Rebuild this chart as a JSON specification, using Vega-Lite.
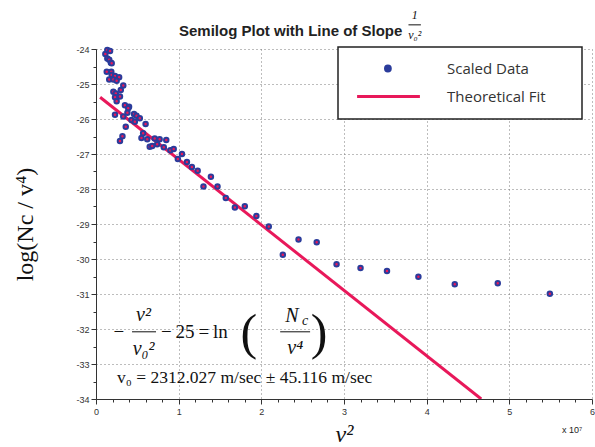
{
  "$schema": "https://vega.github.io/schema/vega-lite/v6.json",
  "width": 496,
  "height": 350,
  "autosize": {"type": "none"},
  "padding": {"left": 96, "top": 49, "right": 3, "bottom": 48},
  "background": "white",
  "title": {
    "text": "Semilog Plot with Line of Slope",
    "anchor": "start",
    "frame": "group",
    "dx": 83,
    "dy": 40,
    "offset": 10,
    "font": "Liberation Sans",
    "fontSize": 15,
    "fontWeight": "bold",
    "color": "#222222"
  },
  "config": {
    "view": {"stroke": null},
    "axis": {
      "domainColor": "#333333",
      "tickColor": "#333333",
      "labelFont": "Liberation Sans",
      "labelFontSize": 9,
      "labelColor": "#333333",
      "labelOverlap": false,
      "gridColor": "#7a7a7a",
      "gridDash": [1, 3],
      "titleFont": "Liberation Serif",
      "titleFontWeight": "normal",
      "titleColor": "#111111"
    },
    "legend": {
      "strokeColor": "#222222",
      "strokeWidth": 1.5,
      "fillColor": "white",
      "padding": 14,
      "labelFont": "Open Sans",
      "labelFontSize": 15,
      "labelColor": "#333333",
      "labelOffset": 80,
      "labelLimit": 300,
      "rowPadding": 12,
      "symbolSize": 64,
      "symbolStrokeWidth": 3
    }
  },
  "datasets": {
    "pts": [
      {"v2": 0.137, "logN": -24.03}, {"v2": 0.17, "logN": -24.06}, {"v2": 0.113, "logN": -24.14},
      {"v2": 0.137, "logN": -24.27}, {"v2": 0.16, "logN": -24.31}, {"v2": 0.18, "logN": -24.39},
      {"v2": 0.19, "logN": -24.41}, {"v2": 0.13, "logN": -24.65}, {"v2": 0.185, "logN": -24.65},
      {"v2": 0.19, "logN": -24.74}, {"v2": 0.23, "logN": -24.77}, {"v2": 0.28, "logN": -24.81},
      {"v2": 0.16, "logN": -24.87}, {"v2": 0.21, "logN": -24.87}, {"v2": 0.25, "logN": -24.91},
      {"v2": 0.33, "logN": -25.04}, {"v2": 0.3, "logN": -25.17}, {"v2": 0.21, "logN": -25.22},
      {"v2": 0.24, "logN": -25.27}, {"v2": 0.29, "logN": -25.36}, {"v2": 0.23, "logN": -25.38},
      {"v2": 0.25, "logN": -25.49}, {"v2": 0.35, "logN": -25.61}, {"v2": 0.4, "logN": -25.65},
      {"v2": 0.39, "logN": -25.69}, {"v2": 0.38, "logN": -25.82}, {"v2": 0.23, "logN": -25.88},
      {"v2": 0.46, "logN": -25.86}, {"v2": 0.49, "logN": -25.91}, {"v2": 0.33, "logN": -25.93},
      {"v2": 0.53, "logN": -25.98}, {"v2": 0.43, "logN": -26.03}, {"v2": 0.47, "logN": -26.08},
      {"v2": 0.6, "logN": -26.14}, {"v2": 0.36, "logN": -26.22}, {"v2": 0.32, "logN": -26.49},
      {"v2": 0.29, "logN": -26.63}, {"v2": 0.55, "logN": -26.54}, {"v2": 0.57, "logN": -26.41},
      {"v2": 0.62, "logN": -26.58}, {"v2": 0.71, "logN": -26.56}, {"v2": 0.77, "logN": -26.58},
      {"v2": 0.85, "logN": -26.6}, {"v2": 0.74, "logN": -26.72}, {"v2": 0.65, "logN": -26.79},
      {"v2": 0.68, "logN": -26.77}, {"v2": 0.82, "logN": -26.81}, {"v2": 0.9, "logN": -26.89},
      {"v2": 0.94, "logN": -26.86}, {"v2": 1.04, "logN": -27.0}, {"v2": 0.99, "logN": -27.14},
      {"v2": 1.1, "logN": -27.23}, {"v2": 1.16, "logN": -27.37}, {"v2": 1.23, "logN": -27.48},
      {"v2": 1.39, "logN": -27.65}, {"v2": 1.3, "logN": -27.93}, {"v2": 1.47, "logN": -27.93},
      {"v2": 1.57, "logN": -28.26}, {"v2": 1.68, "logN": -28.53}, {"v2": 1.8, "logN": -28.49},
      {"v2": 1.94, "logN": -28.77}, {"v2": 2.09, "logN": -29.07}, {"v2": 2.26, "logN": -29.88},
      {"v2": 2.45, "logN": -29.44}, {"v2": 2.67, "logN": -29.52}, {"v2": 2.91, "logN": -30.15},
      {"v2": 3.2, "logN": -30.26}, {"v2": 3.52, "logN": -30.34}, {"v2": 3.9, "logN": -30.51},
      {"v2": 4.34, "logN": -30.72}, {"v2": 4.86, "logN": -30.69}, {"v2": 5.49, "logN": -30.99}
    ],
    "fit": [
      {"v2": 0.05, "logN": -25.38, "series": "Theoretical Fit"},
      {"v2": 4.66, "logN": -34.0, "series": "Theoretical Fit"}
    ]
  },
  "encoding": {
    "x": {
      "field": "v2", "type": "quantitative",
      "scale": {"domain": [0, 6], "nice": false, "zero": false},
      "axis": {
        "tickCount": 30,
        "labelExpr": "abs(datum.value - round(datum.value)) < 0.001 ? format(datum.value, 'd') : ''",
        "labelOverlap": false,
        "labelBound": false,
        "labelFlush": false,
        "tickSize": {"condition": {"test": "abs(datum.value - round(datum.value)) < 0.001", "value": 5}, "value": 3},
        "gridOpacity": {"condition": {"test": "abs(datum.value - round(datum.value)) < 0.001", "value": 1}, "value": 0},
        "labelPadding": 3,
        "title": "v²",
        "titleFontSize": 24,
        "titleFontStyle": "italic",
        "titlePadding": 6
      }
    },
    "y": {
      "field": "logN", "type": "quantitative",
      "scale": {"domain": [-34, -24], "nice": false, "zero": false},
      "axis": {
        "tickCount": 20,
        "labelExpr": "abs(datum.value - round(datum.value)) < 0.001 ? '-' + abs(datum.value) : ''",
        "labelOverlap": false,
        "labelBound": false,
        "labelFlush": false,
        "tickSize": {"condition": {"test": "abs(datum.value - round(datum.value)) < 0.001", "value": 5}, "value": 3},
        "gridOpacity": {"condition": {"test": "abs(datum.value - round(datum.value)) < 0.001", "value": 1}, "value": 0},
        "labelPadding": 2,
        "title": "log(Nc / v⁴)",
        "titleFontSize": 24,
        "titlePadding": 38
      }
    }
  },
  "layer": [
    {
      "data": {"name": "fit"},
      "mark": {"type": "line", "strokeWidth": 3, "clip": true},
      "encoding": {
        "stroke": {
          "field": "series", "type": "nominal",
          "scale": {"domain": ["Scaled Data", "Theoretical Fit"], "range": ["#2b3c9b", "#e8185a"]},
          "legend": {
            "title": null,
            "orient": "none", "legendX": 242, "legendY": -2,
            "encode": {
              "labels": {"update": {"text": {"signal": "datum.label + '\u2800\u2800'"}}},
              "symbols": {"update": {
                "fill": {"scale": "stroke", "field": "value"},
                "stroke": {"scale": "stroke", "field": "value"},
                "strokeWidth": {"value": 3},
                "size": {"value": 64},
                "shape": [
                  {"test": "datum.value === 'Theoretical Fit'", "value": "M-0.6,0L15.1,0"},
                  {"value": "M6.5,0A0.6,0.6,0,1,0,7.7,0A0.6,0.6,0,1,0,6.5,0Z"}
                ]
              }}
            }
          }
        }
      }
    },
    {
      "data": {"name": "pts"},
      "transform": [{"calculate": "'Scaled Data'", "as": "series"}],
      "mark": {"type": "point", "shape": "circle", "size": 20, "filled": true, "fill": "#e8185a", "strokeWidth": 2, "opacity": 1},
      "encoding": {
        "stroke": {"field": "series", "type": "nominal"}
      }
    },
    {
      "data": {"values": [{"v2": 0.436, "v2end": 0.726, "logN": -32.08}, {"v2": 2.228, "v2end": 2.59, "logN": -32.08}, {"v2": 3.78, "v2end": 3.93, "logN": -23.31}]},
      "mark": {"type": "rule", "strokeWidth": 1, "color": "#111111"},
      "encoding": {
        "x2": {"field": "v2end"}
      }
    },
    {
      "data": {"values": [
        {"label": "v²", "v2": 0.575, "logN": -31.6},
        {"label": "v₀²", "v2": 0.575, "logN": -32.57},
        {"label": "N", "v2": 2.37, "logN": -31.64},
        {"label": "v⁴", "v2": 2.41, "logN": -32.54}
      ]},
      "mark": {"type": "text", "font": "Liberation Serif", "fontSize": 20, "fontStyle": "italic", "align": "center", "baseline": "middle", "color": "#111111"},
      "encoding": {"text": {"field": "label"}}
    },
    {
      "data": {"values": [{"label": "c", "v2": 2.53, "logN": -31.76}]},
      "mark": {"type": "text", "font": "Liberation Serif", "fontSize": 14, "fontStyle": "italic", "align": "center", "baseline": "middle", "color": "#111111"},
      "encoding": {"text": {"field": "label"}}
    },
    {
      "data": {"values": [
        {"label": "−", "v2": 0.278, "logN": -32.08},
        {"label": "−\u200925\u2009=\u2009ln", "v2": 1.19, "logN": -32.08}
      ]},
      "mark": {"type": "text", "font": "Liberation Serif", "fontSize": 19, "align": "center", "baseline": "middle", "color": "#111111"},
      "encoding": {"text": {"field": "label"}}
    },
    {
      "data": {"values": [
        {"label": "(", "v2": 1.85, "logN": -32.14},
        {"label": ")", "v2": 2.7, "logN": -32.14}
      ]},
      "mark": {"type": "text", "font": "Liberation Serif", "fontSize": 50, "align": "center", "baseline": "middle", "color": "#111111"},
      "encoding": {"text": {"field": "label"}}
    },
    {
      "data": {"values": [{"label": "v₀ = 2312.027 m/sec  ± 45.116 m/sec", "v2": 0.254, "logN": -33.4}]},
      "mark": {"type": "text", "font": "Liberation Serif", "fontSize": 17.5, "align": "left", "baseline": "middle", "color": "#111111"},
      "encoding": {"text": {"field": "label"}}
    },
    {
      "data": {"values": [
        {"label": "1", "v2": 3.855, "logN": -23.03},
        {"label": "v₀²", "v2": 3.855, "logN": -23.6}
      ]},
      "mark": {"type": "text", "font": "Liberation Serif", "fontSize": 12, "fontStyle": "italic", "align": "center", "baseline": "middle", "color": "#111111"},
      "encoding": {"text": {"field": "label"}}
    },
    {
      "data": {"values": [{"label": "x 10⁷", "v2": 5.76, "logN": -34.89}]},
      "mark": {"type": "text", "font": "Liberation Sans", "fontSize": 9, "align": "center", "baseline": "middle", "color": "#222222"},
      "encoding": {"text": {"field": "label"}}
    }
  ]
}
